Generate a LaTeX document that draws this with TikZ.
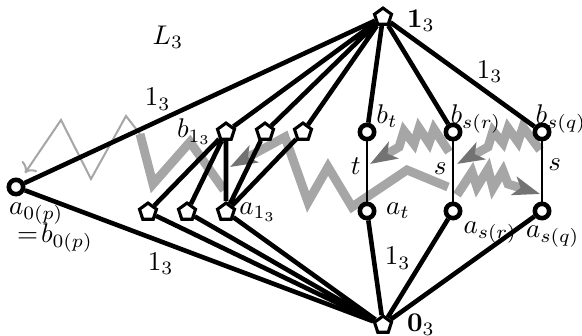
\documentclass[tikz,border=0pt]{standalone}
\usepackage{amsmath,amssymb}
\usepackage{tikz}
\usetikzlibrary{arrows.meta,positioning,calc,shapes.geometric}

\begin{document}
\begin{tikzpicture}[x=0.37pt,y=-0.37pt,
  pent/.style={regular polygon,regular polygon sides=5,draw,fill=white,line width=1.15pt,inner sep=0pt,minimum size=6.6pt},
  ring/.style={circle,draw,fill=white,line width=1.7pt,inner sep=0pt,minimum size=5.3pt},
  bond/.style={line width=1.7pt},
  rung/.style={line width=0.75pt},
  zig/.style={line width=3.3pt,black!35},
  zigtip/.style={-{Stealth[length=10pt,width=7pt,inset=2.5pt,color=black!55]}}]
  \useasboundingbox (0,0) rectangle (582,336);

  % gray moves
  \draw[zig] (140,134) -- (153,184) -- (190,142) -- (224,190);
  \draw[black!35,line width=0.75pt,->] (140,134) -- (126,116) -- (91,179) -- (61,120) -- (25,173);
  \draw[zig,zigtip] (448,187) -- (407,170) -- (352,207) -- (328,167) -- (308,202) -- (285,137) -- (230,167);
  \draw[zig,zigtip] (449,152) -- (434,129) -- (429,143) -- (419,128) -- (414,144) -- (404,131) -- (399,147) -- (370,164);
  \draw[zig,zigtip] (540,150) -- (523,127) -- (518,142) -- (508,128) -- (503,143) -- (493,131) -- (488,147) -- (457,164);
  \draw[zig,zigtip] (457,195) -- (472,172) -- (477,187) -- (488,169) -- (493,188) -- (503,171) -- (508,184) -- (540,194);

  \node (lat) at (168,37) {$L_3$};

  \node[pent,label={[xshift=2pt,yshift=-1.5pt]right:$\mathbf{1}_3$}] (top) at (383,17) {};
  \node[pent,label={[xshift=2pt]right:$\mathbf{0}_3$}] (bot) at (383,325) {};
  \node[ring,label={[xshift=7.5pt,label distance=-1pt]below:$a_{0(p)}$},
    label={[xshift=14.4pt,yshift=-6.7pt]below:${=}\mkern2mu b_{0(p)}$}] (a0) at (16,187) {};

  \node[pent,label={[label distance=-1.5pt]left:$b_{1_3}$}] (b1) at (226,132) {};
  \node[pent] (u2) at (265,132) {};
  \node[pent] (u3) at (303,132) {};
  \node[pent] (l1) at (148,212) {};
  \node[pent] (l2) at (187,212) {};
  \node[pent,label={[label distance=-2pt]right:$a_{1_3}$}] (a1) at (226,212) {};

  \node[ring,label={[anchor=base west,inner sep=0pt,xshift=3.3pt,yshift=-0.5pt]north:$b_t$}] (bt) at (367,132) {};
  \node[ring,label={[anchor=base west,inner sep=0pt,xshift=-1.1pt,yshift=-0.5pt]north:$b_{s(r)}$}] (bsr) at (453,132) {};
  \node[ring,label={[anchor=base west,inner sep=0pt,xshift=-2.6pt,yshift=-0.5pt]north:$b_{s(q)}$}] (bsq) at (542,132) {};
  \node[ring,label=right:$a_t$] (at) at (367,211) {};
  \node[ring,label={[label distance=-3pt]below right:$a_{s(r)}$}] (asr) at (453,211) {};
  \node[ring,label={[xshift=4pt,label distance=-1.5pt]below:$a_{s(q)}$}] (asq) at (542,211) {};

  \draw[bond] (top) -- node[above,pos=0.62] (w1) {$1_3$} (a0);
  \draw[bond] (top) -- (b1) (top) -- (u2) (top) -- (u3) (top) -- (bt) (top) -- (bsr);
  \draw[bond] (top) -- node[above,pos=0.69] (w2) {$1_3$} (bsq);
  \draw[bond] (bot) -- node[below,pos=0.61] (w3) {$1_3$} (a0);
  \draw[bond] (bot) -- (l1) (bot) -- (l2) (bot) -- (a1) (bot) -- (asr) (bot) -- (asq);
  \draw[bond] (at) -- node[right,pos=0.4] (w4) {$1_3$} (bot);
  \draw[bond] (b1) -- (l1) (b1) -- (l2) (b1) -- (a1) (a1) -- (u2) (a1) -- (u3);

  \draw[rung] (bt) -- node[left,pos=0.42,inner sep=2pt] (wt) {$t$} (at);
  \draw[rung] (bsr) -- node[left,pos=0.46,inner sep=2pt] (wr) {$s$} (asr);
  \draw[rung] (bsq) -- node[right,pos=0.39,inner sep=2pt] (wq) {$s$} (asq);
\end{tikzpicture}
\end{document}
